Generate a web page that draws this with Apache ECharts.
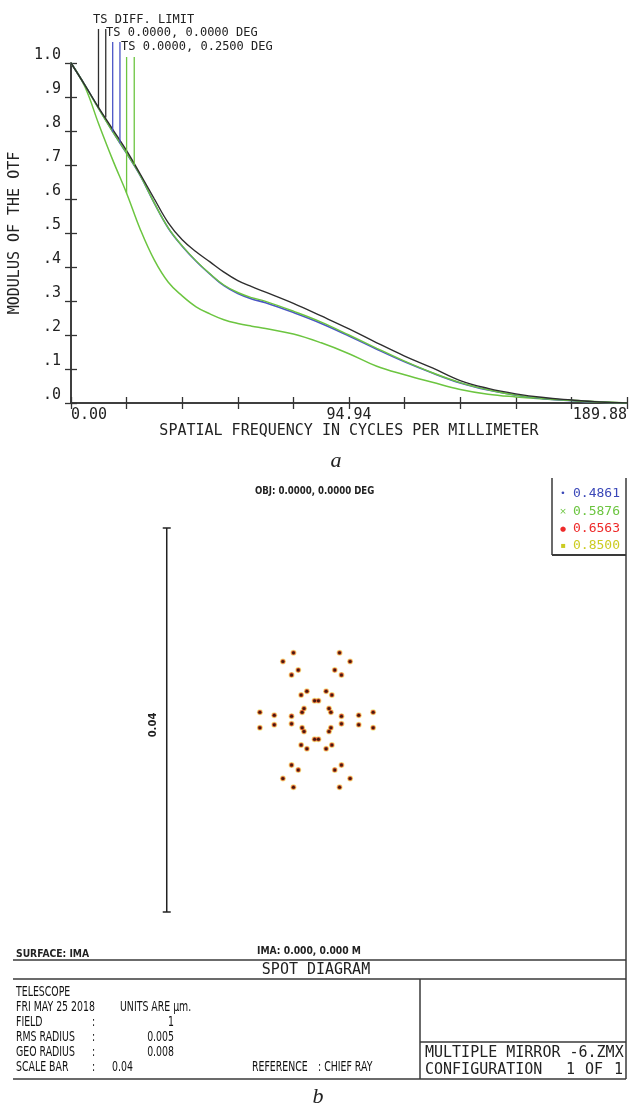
<!DOCTYPE html>
<html><head><meta charset="utf-8">
<script src="https://cdn.jsdelivr.net/npm/echarts@6/dist/echarts.min.js"></script>
<style>html,body{margin:0;padding:0;background:#fff}#c{width:630px;height:1110px}</style>
</head><body><div id="c"></div><script>
// ---------- MTF data (a) ----------
const freq      = [0, 4.75, 9.49, 14.24, 18.99, 23.74, 28.48, 33.23, 37.98, 42.72, 47.47, 52.22, 56.96, 61.71, 66.46, 75.95, 85.45, 94.94, 104.43, 113.93, 123.42, 132.92, 142.41, 151.90, 161.40, 170.89, 180.39, 189.88];
const diffLimit = [1.0, 0.935, 0.868, 0.805, 0.742, 0.672, 0.600, 0.530, 0.480, 0.445, 0.415, 0.385, 0.360, 0.342, 0.326, 0.293, 0.256, 0.218, 0.177, 0.138, 0.103, 0.066, 0.043, 0.027, 0.016, 0.009, 0.003, 0.0];
const field0    = [1.0, 0.935, 0.866, 0.798, 0.734, 0.667, 0.587, 0.514, 0.461, 0.417, 0.379, 0.345, 0.322, 0.306, 0.295, 0.266, 0.234, 0.197, 0.158, 0.121, 0.088, 0.059, 0.038, 0.023, 0.013, 0.007, 0.002, 0.0];
const field25T  = [1.0, 0.935, 0.865, 0.798, 0.735, 0.668, 0.588, 0.515, 0.462, 0.418, 0.380, 0.347, 0.325, 0.310, 0.299, 0.270, 0.238, 0.200, 0.161, 0.123, 0.089, 0.060, 0.039, 0.023, 0.013, 0.007, 0.002, 0.0];
const field25S  = [1.0, 0.930, 0.820, 0.715, 0.617, 0.509, 0.420, 0.355, 0.315, 0.283, 0.262, 0.245, 0.234, 0.226, 0.219, 0.203, 0.177, 0.145, 0.108, 0.083, 0.061, 0.040, 0.026, 0.018, 0.012, 0.008, 0.004, 0.0];
const xLabelValues = [0, 94.94, 189.88];
const xLabelTexts  = ['0.00', '94.94', '189.88'];
const yTickLabels  = ['.0', '.1', '.2', '.3', '.4', '.5', '.6', '.7', '.8', '.9', '1.0'];
const legendNames  = ['TS DIFF. LIMIT', 'TS 0.0000, 0.0000 DEG', 'TS 0.0000, 0.2500 DEG'];
// leader lines from legend text down to the curves
const dropFreq = [9.39, 11.87, 14.24, 16.72, 18.99, 21.60];
const dropTop  = [1.100, 1.100, 1.062, 1.062, 1.018, 1.018];
const dropEnd  = [0.868, 0.840, 0.798, 0.765, 0.617, 0.700];

// ---------- Spot diagram data (b), units µm ----------
const spotPoints = [
  [-0.0024, 0.0070], [-0.0035, 0.0061], [-0.0019, 0.0052], [-0.0026, 0.0047],
  [0.0024, 0.0070], [0.0035, 0.0061], [0.0019, 0.0052], [0.0026, 0.0047],
  [-0.0024, -0.0070], [-0.0035, -0.0061], [-0.0019, -0.0052], [-0.0026, -0.0047],
  [0.0024, -0.0070], [0.0035, -0.0061], [0.0019, -0.0052], [0.0026, -0.0047],
  [-0.0016, 0.0026], [-0.0010, 0.0030], [0.0010, 0.0030], [0.0016, 0.0026],
  [-0.0002, 0.0020], [0.0002, 0.0020],
  [-0.0013, 0.0012], [-0.0015, 0.0008], [0.0013, 0.0012], [0.0015, 0.0008],
  [-0.0015, -0.0008], [-0.0013, -0.0012], [0.0015, -0.0008], [0.0013, -0.0012],
  [-0.0002, -0.0020], [0.0002, -0.0020],
  [-0.0016, -0.0026], [-0.0010, -0.0030], [0.0010, -0.0030], [0.0016, -0.0026],
  [-0.0059, 0.0008], [-0.0044, 0.0005], [-0.0026, 0.0004],
  [0.0059, 0.0008], [0.0044, 0.0005], [0.0026, 0.0004],
  [-0.0059, -0.0008], [-0.0044, -0.0005], [-0.0026, -0.0004],
  [0.0059, -0.0008], [0.0044, -0.0005], [0.0026, -0.0004]
];
const wavelengths = ['0.4861', '0.5876', '0.6563', '0.8500'];
const scaleBarLength = 0.04;
const scaleBarX = -0.0156;

// ---------- styles ----------
const BLACK = '#2e2e2e', BLUE = '#4b55c6', GREEN = '#6cc540';
const MONO = '"DejaVu Sans Mono", "Liberation Mono", monospace';
const SANS = '"DejaVu Sans", sans-serif';
const toXY = arr => freq.map((f, i) => [f, arr[i]]);

const chart = echarts.init(document.getElementById('c'), null, {renderer: 'canvas'});

const axisLineStyle = {lineStyle: {color: '#333', width: 1.5}};
const tickStyle = {inside: true, length: 6, lineStyle: {color: '#333', width: 1.3}};

const curveBase = {type: 'line', xAxisIndex: 0, yAxisIndex: 0, showSymbol: false, smooth: 0.4, silent: true};
const dropColors = [BLACK, BLACK, BLUE, BLUE, GREEN, GREEN];

const series = [
  Object.assign({}, curveBase, {name: 'S 0.25', data: toXY(field25S), lineStyle: {color: GREEN, width: 1.5}, z: 2}),
  Object.assign({}, curveBase, {name: legendNames[1], data: toXY(field0), lineStyle: {color: BLUE, width: 1.6}, z: 3}),
  Object.assign({}, curveBase, {name: 'T 0.25', data: toXY(field25T), lineStyle: {color: GREEN, width: 1.4}, z: 4}),
  Object.assign({}, curveBase, {name: legendNames[0], data: toXY(diffLimit), lineStyle: {color: BLACK, width: 1.4}, z: 5})
];
dropFreq.forEach((f, i) => {
  series.push({type: 'line', xAxisIndex: 0, yAxisIndex: 0, clip: false, showSymbol: false, silent: true, z: 6,
    data: [[f, dropTop[i]], [f, dropEnd[i]]], lineStyle: {color: dropColors[i], width: 1.3}});
});
// spot layers (halo -> core), drawn on the second grid (axis index 2)
series.push({type: 'scatter', name: wavelengths[3], xAxisIndex: 2, yAxisIndex: 2, data: spotPoints, symbolSize: 6, itemStyle: {color: '#eadb5a', opacity: 0.7}, silent: true, z: 2});
series.push({type: 'scatter', name: wavelengths[2], xAxisIndex: 2, yAxisIndex: 2, data: spotPoints, symbolSize: 4.6, itemStyle: {color: '#d8321e'}, silent: true, z: 3});
series.push({type: 'scatter', name: wavelengths[0], xAxisIndex: 2, yAxisIndex: 2, data: spotPoints, symbolSize: 3, itemStyle: {color: '#1e0c04'}, silent: true, z: 4});
// scale bar
series.push({type: 'line', xAxisIndex: 2, yAxisIndex: 2, silent: true, z: 2,
  data: [[scaleBarX, -scaleBarLength / 2], [scaleBarX, scaleBarLength / 2]],
  symbol: 'rect', symbolSize: [8, 1.5], showSymbol: true, itemStyle: {color: '#222'},
  lineStyle: {color: '#222', width: 1.5}});

function T(x, y, text, o) {
  o = o || {};
  return {type: 'text', x: x, y: y, rotation: o.rot || 0, scaleX: o.sx || 1, silent: true, z: 10,
    style: {text: text, font: o.font || ('12px ' + MONO), fill: o.fill || '#222', align: o.align || 'left', verticalAlign: 'middle'}};
}
function L(x1, y1, x2, y2, w, c) {
  return {type: 'line', silent: true, z: 10, shape: {x1: x1, y1: y1, x2: x2, y2: y2}, style: {stroke: c || '#3a3a3a', lineWidth: w || 1.5}};
}
const NARROW = {font: '14px ' + SANS, sx: 0.67, fill: '#111'};
const NARROW_R = Object.assign({align: 'right'}, NARROW);
const SMALLB = {font: 'bold 10px ' + SANS, sx: 0.92};
const graphic = [
  // MTF legend texts
  T(93, 20, legendNames[0], {font: '12px ' + MONO}),
  T(106, 33, legendNames[1], {font: '12px ' + MONO}),
  T(121, 47, legendNames[2], {font: '12px ' + MONO}),
  {type: 'text', x: 336, y: 461, silent: true, style: {text: 'a', font: 'italic 22px "Liberation Serif", serif', fill: '#222', align: 'center', verticalAlign: 'middle'}},
  // spot diagram texts
  T(255, 491, 'OBJ: 0.0000, 0.0000 DEG', {font: 'bold 10px ' + SANS, sx: 0.86}),
  T(153, 725, '0.04', {font: 'bold 10px ' + SANS, rot: Math.PI / 2, align: 'center'}),
  T(257, 951, 'IMA: 0.000, 0.000 M', SMALLB),
  T(16, 954, 'SURFACE: IMA', SMALLB),
  // legend box
  L(552, 478, 552, 555, 1.5), L(552, 555, 626, 555, 2),
  L(626, 478, 626, 1079, 1.5),
  T(563, 494, '•', {font: '9px ' + SANS, fill: '#3b48b8', align: 'center'}),
  T(563, 512, '×', {font: '9px ' + SANS, fill: '#6cc540', align: 'center'}),
  T(563, 529, '●', {font: '7px ' + SANS, fill: '#ee2a2a', align: 'center'}),
  T(563, 546, '▪', {font: '8px ' + SANS, fill: '#cccc22', align: 'center'}),
  T(573, 494, wavelengths[0], {font: '13px ' + MONO, fill: '#3b48b8'}),
  T(573, 512, wavelengths[1], {font: '13px ' + MONO, fill: '#6cc540'}),
  T(573, 529, wavelengths[2], {font: '13px ' + MONO, fill: '#ee2a2a'}),
  T(573, 546, wavelengths[3], {font: '13px ' + MONO, fill: '#cccc22'}),
  // footer table
  L(13, 960, 626, 960, 1.5), L(13, 979, 626, 979, 1.5), L(13, 1079, 626, 1079, 1.5),
  L(420, 979, 420, 1079, 1.5), L(420, 1042, 626, 1042, 1.5),
  T(316, 970, 'SPOT DIAGRAM', {font: '15px ' + MONO, align: 'center'}),
  T(16, 992, 'TELESCOPE', NARROW),
  T(16, 1007, 'FRI MAY 25 2018', NARROW), T(120, 1007, 'UNITS ARE µm.', NARROW),
  T(16, 1022, 'FIELD', NARROW), T(92, 1022, ':', NARROW), T(174, 1022, '1', NARROW_R),
  T(16, 1037, 'RMS RADIUS', NARROW), T(92, 1037, ':', NARROW), T(174, 1037, '0.005', NARROW_R),
  T(16, 1052, 'GEO RADIUS', NARROW), T(92, 1052, ':', NARROW), T(174, 1052, '0.008', NARROW_R),
  T(16, 1067, 'SCALE BAR', NARROW), T(92, 1067, ':', NARROW), T(112, 1067, '0.04', NARROW),
  T(252, 1067, 'REFERENCE', NARROW), T(318, 1067, ': CHIEF RAY', NARROW),
  T(425, 1053, 'MULTIPLE MIRROR -6.ZMX', {font: '15px ' + MONO}),
  T(425, 1070, 'CONFIGURATION', {font: '15px ' + MONO}),
  T(566, 1070, '1', {font: '15px ' + MONO}), T(585, 1070, 'OF', {font: '15px ' + MONO}), T(614, 1070, '1', {font: '15px ' + MONO}),
  {type: 'text', x: 318, y: 1097, silent: true, style: {text: 'b', font: 'italic 22px "Liberation Serif", serif', fill: '#222', align: 'center', verticalAlign: 'middle'}}
];

chart.setOption({
  animation: false,
  backgroundColor: '#fff',
  grid: [
    {left: 68, top: 63, width: 560, height: 340},
    {left: 124.5, top: 528, width: 384, height: 384}
  ],
  xAxis: [
    {type: 'value', gridIndex: 0, position: 'bottom', min: 0, max: 189.88, interval: 18.988,
      axisLine: axisLineStyle, axisTick: tickStyle, splitLine: {show: false},
      axisLabel: {margin: 5, color: '#222', fontFamily: MONO, fontSize: 15, showMinLabel: true, showMaxLabel: true,
        alignMinLabel: 'left', alignMaxLabel: 'right',
        formatter: v => { const i = xLabelValues.findIndex(t => Math.abs(t - v) < 0.01); return i >= 0 ? xLabelTexts[i] : ''; }},
      name: 'SPATIAL FREQUENCY IN CYCLES PER MILLIMETER', nameLocation: 'middle', nameGap: 21,
      nameTextStyle: {fontFamily: MONO, fontSize: 15, color: '#222', verticalAlign: 'top'}},
    {type: 'value', gridIndex: 0, position: 'top', min: 0, max: 189.88, interval: 18.988,
      axisLine: axisLineStyle, axisTick: tickStyle, axisLabel: {show: false}, splitLine: {show: false}},
    {type: 'value', gridIndex: 1, min: -0.02, max: 0.02, show: false}
  ],
  yAxis: [
    {type: 'value', gridIndex: 0, position: 'left', min: 0, max: 1, interval: 0.1,
      axisLine: {show: true, lineStyle: {color: '#333', width: 1.5}}, axisTick: Object.assign({show: true}, tickStyle), splitLine: {show: false},
      axisLabel: {margin: 10, color: '#222', fontFamily: MONO, fontSize: 15, verticalAlign: 'bottom',
        formatter: v => yTickLabels[Math.round(v * 10)]},
      name: 'MODULUS OF THE OTF', nameLocation: 'middle', nameGap: 42,
      nameTextStyle: {fontFamily: MONO, fontSize: 15, color: '#222'}},
    {type: 'value', gridIndex: 0, position: 'right', min: 0, max: 1, interval: 0.1,
      axisLine: {show: true, lineStyle: {color: '#333', width: 1.5}}, axisTick: Object.assign({show: true}, tickStyle),
      axisLabel: {show: false}, splitLine: {show: false}},
    {type: 'value', gridIndex: 1, min: -0.02, max: 0.02, show: false}
  ],
  series: series,
  graphic: graphic
});
</script></body></html>
